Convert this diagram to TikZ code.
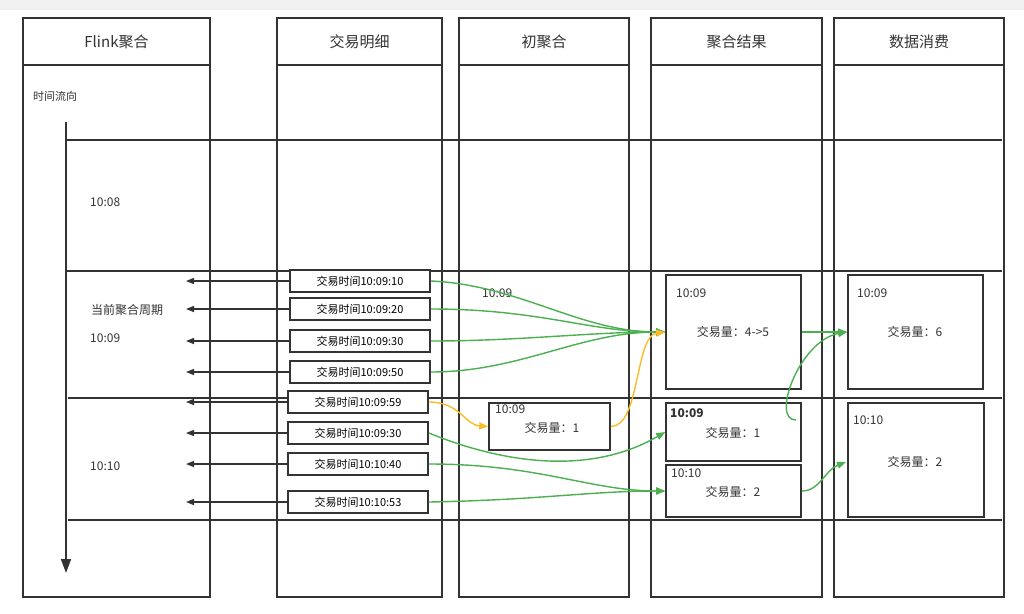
\documentclass[tikz,border=0pt]{standalone}
\usepackage{fontspec}
\setmainfont{Noto Sans CJK SC}
\usetikzlibrary{arrows.meta}
\definecolor{ln}{HTML}{333333}
\definecolor{gr}{HTML}{4CAF50}
\definecolor{og}{HTML}{FBBC2A}
\begin{document}
\begin{tikzpicture}[x=1pt,y=-1pt,
  col/.style={draw=ln,line width=1.6pt,fill=white},
  hl/.style={draw=ln,line width=1.6pt},
  det/.style={draw=ln,line width=1.6pt,fill=white,minimum width=140pt,minimum height=22pt,inner sep=0pt,font=\fontsize{11}{12}\selectfont},
  box/.style={draw=ln,line width=1.6pt,fill=white,inner sep=0pt},
  txt/.style={font=\fontsize{12}{14}\selectfont,text=ln,inner sep=0pt},
  ttl/.style={font=\fontsize{15}{17}\selectfont,text=ln,inner sep=0pt},
  la/.style={draw=ln,line width=1.4pt,-{Triangle[length=8pt,width=6pt]}},
  ga/.style={draw=gr,line width=1.4pt,-{Triangle[length=9pt,width=7pt]}},
  oa/.style={draw=og,line width=1.4pt,-{Triangle[length=9pt,width=7pt]}}]
\useasboundingbox (0,0) rectangle (1024,613);
\fill[white] (0,0) rectangle (1024,613);
\fill[black!6] (0,0) rectangle (1024,10);
% columns
\foreach \a/\b/\t [count=\i] in {23/210/Flink聚合,277/442/交易明细,459/629/初聚合,651/822/聚合结果,834/1004/数据消费}{
  \draw[col] (\a,18) rectangle (\b,597);
  \draw[hl] (\a,65) -- (\b,65);
  \node[ttl] (h\i) at ({(\a+\b)/2},42) {\t};
}
% horizontal lines
\coordinate (l1a) at (66,140); \coordinate (l1b) at (1002,140);
\coordinate (l2a) at (66,271); \coordinate (l2b) at (1002,271);
\coordinate (l3a) at (68,398); \coordinate (l3b) at (1002,398);
\coordinate (l4a) at (68,520); \coordinate (l4b) at (1002,520);
\draw[hl] (l1a) -- (l1b); \draw[hl] (l2a) -- (l2b);
\draw[hl] (l3a) -- (l3b); \draw[hl] (l4a) -- (l4b);
% time axis
\coordinate (t0) at (66,122); \coordinate (t1) at (66,573);
\draw[draw=ln,line width=1.6pt,-{Triangle[length=14pt,width=10pt]}] (t0) -- (t1);
\node[txt,anchor=west,font=\fontsize{11}{12}\selectfont] (tl) at (33,96) {时间流向};
\node[txt,anchor=west] (t08) at (90,202) {10:08};
\node[txt,anchor=west] (cur) at (91,310) {当前聚合周期};
\node[txt,anchor=west] (t09) at (90,338) {10:09};
\node[txt,anchor=west] (t10) at (90,466) {10:10};
\node[txt,anchor=west] (m09) at (482,293) {10:09};
% detail boxes
\foreach \n/\x/\y/\t in {d1/360/281/10:09:10,d2/360/309/10:09:20,d3/360/341/10:09:30,d4/360/372/10:09:50,d5/358/402/10:09:59,d6/358/433/10:09:30,d7/358/464/10:10:40,d8/358/502/10:10:53}{
  \node[det] (\n) at (\x,\y) {交易时间\t};
}
\foreach \n/\y in {d1/281,d2/309,d3/341,d4/372,d5/402,d6/433,d7/464,d8/502}{
  \coordinate (e\n) at (186,\y);
  \draw[la] (\n.west) -- (e\n);
}
% init agg
\node[box,minimum width=121pt,minimum height=47pt] (ia) at (549.5,426.5) {};
\node[txt,anchor=north west] (ia1) at (495,405) {10:09};
\node[txt] (ia2) at (552,428) {交易量：1};
% results
\node[box,minimum width=135pt,minimum height=114pt] (ra) at (733.5,332) {};
\node[txt,anchor=west] (ra1) at (676,293) {10:09};
\node[txt] (ra2) at (733,332) {交易量：4->5};
\node[box,minimum width=135pt,minimum height=58pt] (rb) at (733.5,432) {};
\node[txt,anchor=west,font=\bfseries\fontsize{12}{14}\selectfont] (rb1) at (670,413) {10:09};
\node[txt] (rb2) at (733,433) {交易量：1};
\node[box,minimum width=135pt,minimum height=52pt] (rc) at (733.5,491) {};
\node[txt,anchor=west] (rc1) at (671,473) {10:10};
\node[txt] (rc2) at (733,492) {交易量：2};
% consumption
\node[box,minimum width=135pt,minimum height=114pt] (ca) at (915.5,332) {};
\node[txt,anchor=west] (ca1) at (857,293) {10:09};
\node[txt] (ca2) at (915,332) {交易量：6};
\node[box,minimum width=136pt,minimum height=114pt] (cb) at (916,460) {};
\node[txt,anchor=west] (cb1) at (853,420) {10:10};
\node[txt] (cb2) at (915,462) {交易量：2};
% green arrows
\draw[ga] (d1.east) .. controls (520,285) and (580,332) .. ([yshift=0pt]ra.west);
\draw[ga] (d2.east) .. controls (540,309) and (590,332) .. (ra.west);
\draw[ga] (d3.east) .. controls (520,341) and (590,332) .. (ra.west);
\draw[ga] (d4.east) .. controls (520,372) and (580,332) .. (ra.west);
\draw[ga] (d6.east) .. controls (520,470) and (600,470) .. (rb.west);
\draw[ga] (d7.east) .. controls (540,464) and (590,491) .. (rc.west);
\draw[ga] (d8.east) .. controls (540,500) and (590,491) .. (rc.west);
\draw[ga] (ra.east) -- (ca.west);
\coordinate (rbo) at (796,420);
\draw[ga] (rbo) .. controls (770,420) and (800,340) .. (ca.west);
\draw[ga] (rc.east) .. controls (820,491) and (825,470) .. (846,462);
% orange
\draw[oa] (d5.east) .. controls (460,402) and (465,425) .. (ia.west);
\draw[oa] (ia.east) .. controls (640,427) and (635,336) .. (ra.west);
\end{tikzpicture}
\end{document}
